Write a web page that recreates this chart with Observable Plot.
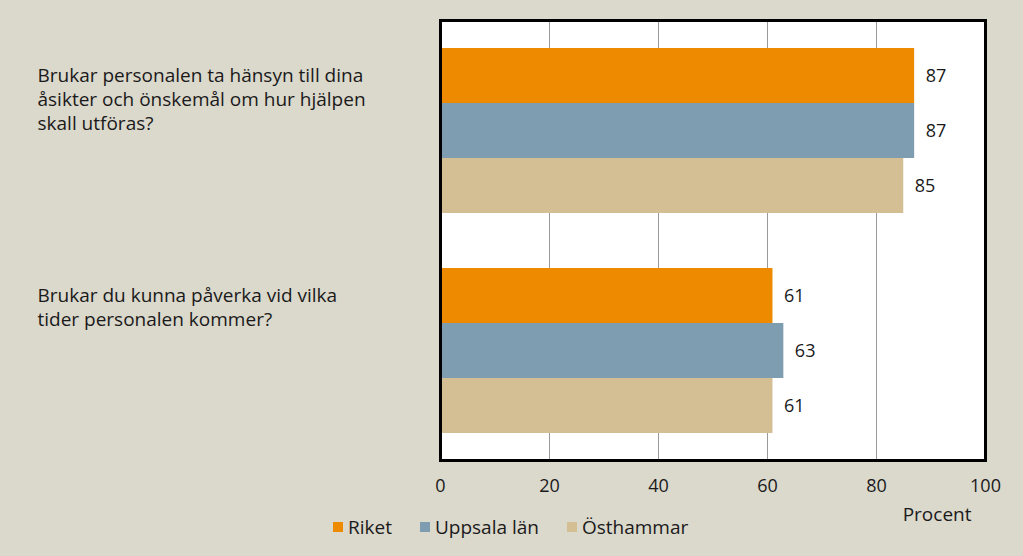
<!DOCTYPE html>
<html>
<head>
<meta charset="utf-8">
<script src="https://cdn.jsdelivr.net/npm/d3@7"></script>
<script src="https://cdn.jsdelivr.net/npm/@observablehq/plot@0.6"></script>
<style>
  html, body { margin: 0; padding: 0; background: #DBD8CC; }
  body { width: 1023px; height: 556px; overflow: hidden; position: relative; font-family: "Open Sans", sans-serif; }
  #chart { position: absolute; left: 0; top: 0; }
  #legend { position: absolute; left: 333px; top: 510px; }
  .lg-swatches { font-family: "Open Sans", sans-serif !important; font-size: 19px !important; color: #1a1a1a; margin: 0 !important; }
  .lg-swatch { margin-right: 28px !important; }
  .lg-swatch > svg { margin-right: 5px !important; }
</style>
</head>
<body>
<div id="chart"></div>
<div id="legend"></div>
<script>
const questions = [
  "Brukar personalen ta hänsyn till dina\nåsikter och önskemål om hur hjälpen\nskall utföras?",
  "Brukar du kunna påverka vid vilka\ntider personalen kommer?"
];
const series = ["Riket", "Uppsala län", "Östhammar"];
const riket = [87, 61];
const uppsalaLan = [87, 63];
const osthammar = [85, 61];
const xTicks = [0, 20, 40, 60, 80, 100];
const axisLabel = "Procent";
const colors = ["#EE8A00", "#7F9DB0", "#D4BF95"];

const seriesValues = [riket, uppsalaLan, osthammar];
const key = (q, s) => q + "|" + s;
const data = [];
questions.forEach((q, qi) => {
  series.forEach((s, si) => {
    data.push({question: q, series: s, key: key(q, s), value: seriesValues[si][qi]});
  });
});
// band domain: bars of each question, with an empty slot between the groups
const yDomain = [];
questions.forEach((q, qi) => {
  if (qi > 0) yDomain.push("gap" + qi);
  series.forEach(s => yDomain.push(key(q, s)));
});

const font = '"Open Sans", sans-serif';
const ink = "#1a1a1a";

const chart = Plot.plot({
  width: 1023,
  height: 556,
  marginLeft: 440,
  marginRight: 38,
  marginTop: 20,
  marginBottom: 96,
  style: {background: "transparent", fontFamily: font, fontSize: "18px", color: ink},
  x: {domain: [0, 100]},
  y: {domain: yDomain, paddingInner: 0, paddingOuter: 0.5, axis: null},
  color: {domain: series, range: colors},
  marks: [
    Plot.frame({fill: "white"}),
    Plot.ruleX(xTicks.slice(1, -1), {stroke: "#9a9a9a", strokeWidth: 1}),
    Plot.barX(data, {x: "value", y: "key", fill: "series"}),
    Plot.text(data, {x: "value", y: "key", text: d => String(d.value),
      textAnchor: "start", dx: 11, fill: ink, fontSize: 18}),
    Plot.text(questions, {y: q => key(q, series[0]), text: d => d, frameAnchor: "left", textAnchor: "start",
      lineAnchor: "top", dx: -403, dy: -11, lineHeight: 1.26, fill: ink, fontSize: 19}),
    Plot.frame({stroke: "black", strokeWidth: 3}),
    Plot.axisX({ticks: xTicks, tickSize: 0, tickPadding: 19, label: null, fill: ink, fontSize: 18}),
    Plot.text([axisLabel], {text: d => d, frameAnchor: "bottom-right",
      textAnchor: "end", dx: -14, dy: 60, fill: ink, fontSize: 19})
  ]
});
document.getElementById("chart").appendChild(chart);

const legend = Plot.legend({
  color: {domain: series, range: colors},
  swatchSize: 10,
  className: "lg",
  style: {fontFamily: font, fontSize: "19px", color: ink}
});
document.getElementById("legend").appendChild(legend);
</script>
</body>
</html>
